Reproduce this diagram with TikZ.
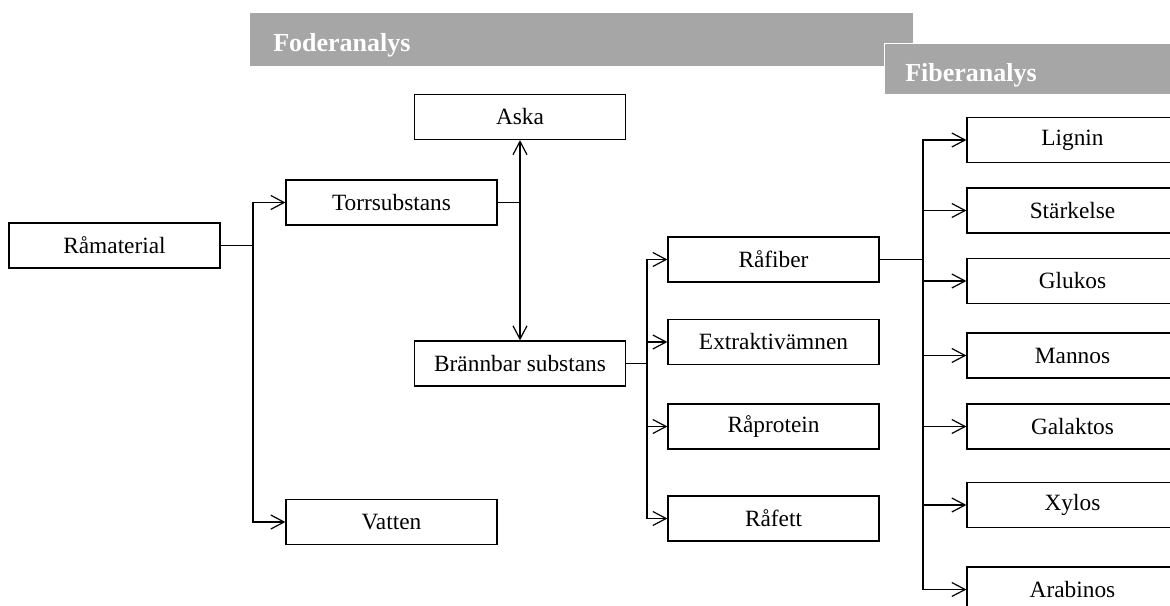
\documentclass[tikz,border=0pt]{standalone}
\usepackage{fontspec}
\setmainfont{Liberation Serif}
\usetikzlibrary{arrows.meta}
\definecolor{bannergray}{RGB}{166,166,166}
\def\u{0.75pt}
\tikzset{
  box/.style={draw, line width=0.9pt, minimum width=211*\u, minimum height=45*\u, inner sep=0pt, font=\fontsize{17.5}{20}\selectfont},
  arr/.style={line width=0.9pt, -{Straight Barb[length=10pt,width=10.5pt,line width=0.9pt]}},
  con/.style={line width=0.9pt},
  bannertext/.style={text=white, inner sep=0pt, font=\fontsize{19.5}{22}\selectfont\bfseries},
}
\begin{document}
\begin{tikzpicture}[x=0.75pt,y=-0.75pt]
\useasboundingbox (0,0) rectangle (1170,606);
\clip (0,0) rectangle (1170,606);
% banners
\node[fill=bannergray, minimum width=663*\u, minimum height=53*\u, anchor=north west, inner sep=0pt] (fod) at (250,13) {};
\node[bannertext, anchor=base west] (fodt) at (273,52) {Foderanalys};
\node[fill=bannergray, draw=white, line width=1pt, minimum width=320*\u, minimum height=51*\u, anchor=north west, inner sep=0pt] (fib) at (884,43) {};
\node[bannertext, anchor=base west] (fibt) at (905,82) {Fiberanalys};
% boxes
\node[box] (ram) at (114.5,245.5) {Råmaterial};
\node[box] (tor) at (391.5,202.5) {Torrsubstans};
\node[box] (vat) at (391.5,522) {Vatten};
\node[box] (aska) at (520,117) {Aska};
\node[box] (bra) at (520,363.5) {Brännbar substans};
\node[box] (rfi) at (773.5,259.5) {Råfiber};
\node[box] (ext) at (773.5,342) {Extraktivämnen};
\node[box] (rpr) at (773.5,426.5) {Råprotein};
\node[box] (rfe) at (773.5,518.5) {Råfett};
\node[box] (lig) at (1072.5,140) {Lignin};
\node[box] (sta) at (1072.5,210.5) {Stärkelse};
\node[box] (glu) at (1072.5,281) {Glukos};
\node[box] (man) at (1072.5,355.5) {Mannos};
\node[box] (gal) at (1072.5,426.5) {Galaktos};
\node[box] (xyl) at (1072.5,505) {Xylos};
\node[box] (ara) at (1072.5,589.5) {Arabinos};
% connectors
\coordinate (b1) at (253,245.5);
\draw[con] (ram.east) -- (b1);
\draw[arr] (b1) |- (tor.west);
\draw[arr] (b1) |- (vat.west);
\coordinate (b2) at (520,202.5);
\draw[con] (tor.east) -- (b2);
\draw[arr] (b2) -- (aska.south);
\draw[arr] (b2) -- (bra.north);
\coordinate (b3) at (647,363.5);
\draw[con] (bra.east) -- (b3);
\draw[arr] (b3) |- (rfi.west);
\draw[arr] (b3) |- (ext.west);
\draw[arr] (b3) |- (rpr.west);
\draw[arr] (b3) |- (rfe.west);
\coordinate (b4) at (923,259.5);
\draw[con] (rfi.east) -- (b4);
\draw[arr] (b4) |- (lig.west);
\draw[arr] (b4) |- (sta.west);
\draw[arr] (b4) |- (glu.west);
\draw[arr] (b4) |- (man.west);
\draw[arr] (b4) |- (gal.west);
\draw[arr] (b4) |- (xyl.west);
\draw[arr] (b4) |- (ara.west);
\end{tikzpicture}
\end{document}
